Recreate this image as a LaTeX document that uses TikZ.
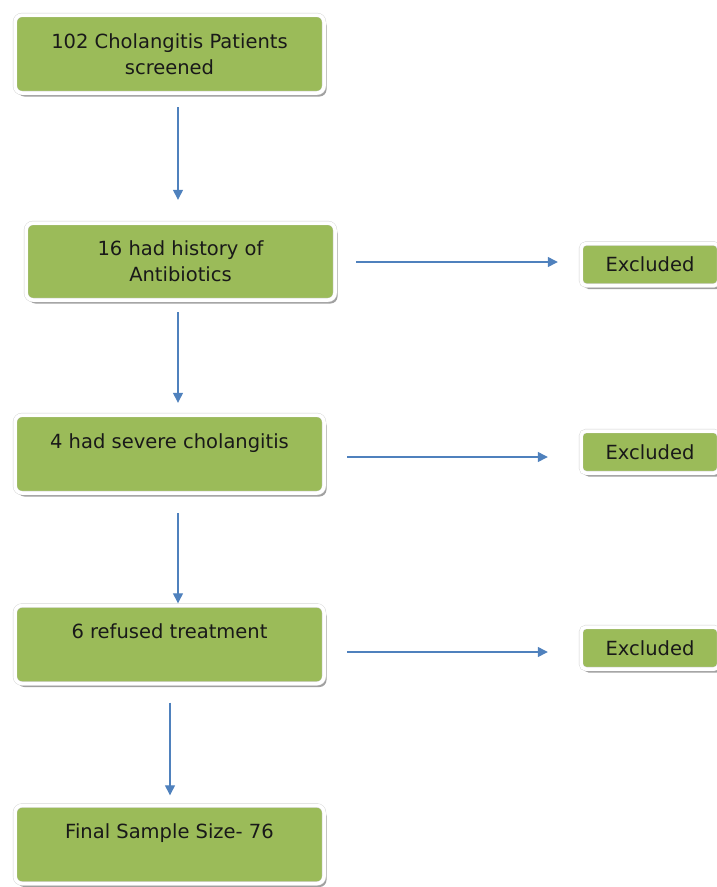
\documentclass[tikz,border=0pt]{standalone}
\usepackage{fontspec}
\setmainfont{DejaVu Sans}
\usetikzlibrary{arrows.meta,shadows}
\definecolor{boxgreen}{RGB}{155,187,89}
\definecolor{flowblue}{RGB}{79,129,189}

\begin{document}
\begin{tikzpicture}[x=1pt, y=-1pt,
  every node/.style={font=\fontsize{19.5}{26}\selectfont, text=black!90},
  stage/.style={draw=black!18, double=white, double distance=3.5pt, fill=boxgreen,
    rounded corners=7pt, align=center, inner sep=0pt,
    minimum width=309pt, minimum height=78pt,
    drop shadow={shadow xshift=2.5pt, shadow yshift=-3.5pt, fill=black!50, opacity=0.75}},
  excl/.style={stage, minimum width=138pt, minimum height=42pt, rounded corners=5pt},
  flow/.style={draw=flowblue, line width=1.3pt, -{Triangle[length=10pt,width=10pt]}}]
  \useasboundingbox (0,0) rectangle (716,887);
  %main column
  \node[stage] (screened) at (169.5,54) {102 Cholangitis Patients\\screened};
  \node[stage, minimum height=77pt] (antibio) at (180.5,261.5) {16 had history of\\Antibiotics};
  \node[stage] (severe) at (169.5,454) {4 had severe cholangitis\\~};
  \node[stage] (refused) at (169.5,644.5) {6 refused treatment\\~};
  \node[stage] (final) at (169.5,844.5) {Final Sample Size- 76\\~};
  %side column
  \node[excl] (exclA) at (650,264.5) {Excluded};
  \node[excl] (exclB) at (650,452) {Excluded};
  \node[excl] (exclC) at (650,648) {Excluded};

  %down arrows
  \draw[flow, shorten <=14pt, shorten >=23pt] ([xshift=8.5pt]screened.south) -- ([xshift=-2.5pt]antibio.north);
  \draw[flow, shorten <=12pt, shorten >=12pt] ([xshift=-2.5pt]antibio.south) -- ([xshift=8.5pt]severe.north);
  \draw[flow, shorten <=20pt, shorten >=2pt] ([xshift=8.5pt]severe.south) -- ([xshift=8.5pt]refused.north);
  \draw[flow, shorten <=19pt, shorten >=10pt] ([xshift=0.5pt]refused.south) -- ([xshift=0.5pt]final.north);
  %side arrows
  \draw[flow, shorten <=21pt, shorten >=23pt] ([yshift=-0.5pt]antibio.east) -- ([yshift=-0.5pt]antibio.east -| exclA.west);
  \draw[flow, shorten <=23pt, shorten >=33pt] ([yshift=-3pt]severe.east) -- ([yshift=-3pt]severe.east -| exclB.west);
  \draw[flow, shorten <=23pt, shorten >=33pt] ([yshift=-7.5pt]refused.east) -- ([yshift=-7.5pt]refused.east -| exclC.west);
\end{tikzpicture}
\end{document}
